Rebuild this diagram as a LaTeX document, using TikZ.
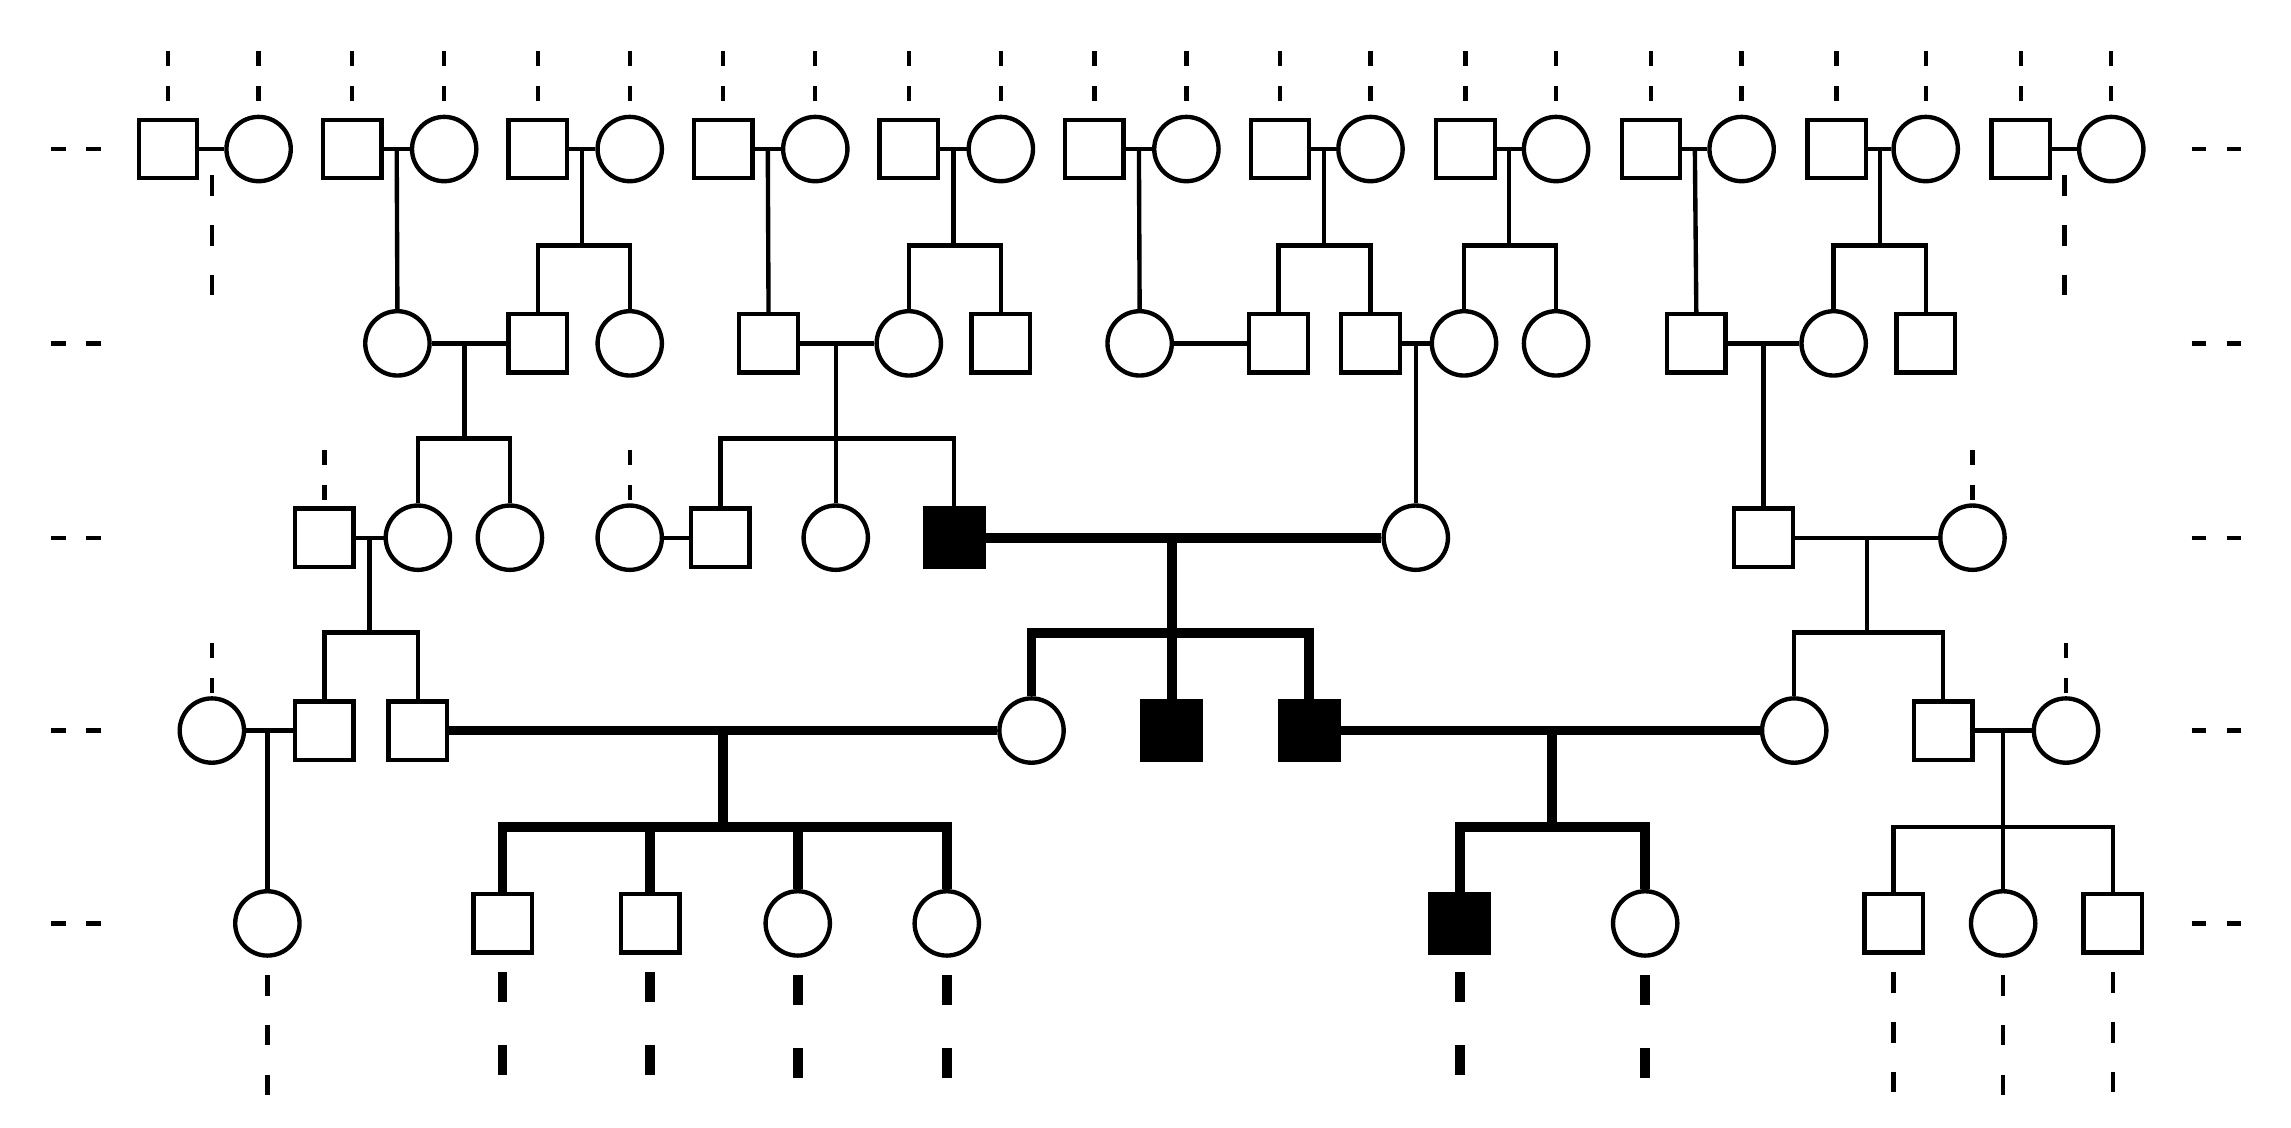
\documentclass[tikz,border=0pt]{standalone}
\usetikzlibrary{calc}
\tikzset{
  male/.style={draw,line width=0.85pt,minimum size=0.4cm,inner sep=0pt},
  female/.style={draw,circle,line width=0.85pt,minimum size=0.44cm,inner sep=0pt},
  aff/.style={fill=black},
  ln/.style={line width=0.85pt},
  bold/.style={line width=1.9pt},
  open/.style={line width=0.85pt,dash pattern=on 0.1cm off 0.14cm},
  openm/.style={line width=0.85pt,dash pattern=on 0.14cm off 0.2cm},
  openl/.style={line width=0.85pt,dash pattern=on 0.2cm off 0.3cm},
  openb/.style={line width=1.9pt,dash pattern=on 0.2cm off 0.3cm}
}
\begin{document}
\begin{tikzpicture}[x=0.01cm,y=-0.01cm]
  \useasboundingbox (0,0) rectangle (1568,772);
  % rows at 102, 235, 368, 500, 632
  \foreach \y in {102,235,368,500,632}{
    \draw[open] (35,\y) -- (72,\y);
    \draw[open] (1500,\y) -- (1537,\y);
  }
  % founders
  \foreach \i/\a/\b in {1/115/177,2/241/304,3/368/431,4/495/558,5/622/685,6/749/812,
                        7/876/938,8/1003/1065,9/1130/1192,10/1257/1318,11/1383/1445}{
    \node[male] (m\i) at (\a,102) {};
    \node[female] (f\i) at (\b,102) {};
    \draw[ln] (m\i.east) -- (f\i.west);
    \coordinate (c\i) at ($(m\i.east)!0.5!(f\i.west)$);
    \draw[open] (\a,35) -- (m\i.north);
    \draw[open] (\b,35) -- (f\i.north);
  }
  \draw[openm] (c1) ++(0,18) -- ++(0,82);
  \draw[openm] (c11) ++(0,18) -- ++(0,82);

  % second row
  \node[female] (a1) at (272,235) {};
  \node[male] (a2) at (368,235) {};
  \node[female] (a3) at (431,235) {};
  \node[male] (a4) at (526,235) {};
  \node[female] (a5) at (622,235) {};
  \node[male] (a6) at (685,235) {};
  \node[female] (a7) at (780,235) {};
  \node[male] (a8) at (875,235) {};
  \node[male] (a9) at (938,235) {};
  \node[female] (a10) at (1002,235) {};
  \node[female] (a11) at (1065,235) {};
  \node[male] (a12) at (1161,235) {};
  \node[female] (a13) at (1255,235) {};
  \node[male] (a14) at (1318,235) {};
  \draw[ln] (c2) -- (a1.north);
  \draw[ln] (c3) -- ++(0,66) -| (a2.north); \draw[ln] (c3 |- 0,168) -| (a3.north);
  \draw[ln] (c4) -- (a4.north);
  \draw[ln] (c5) -- ++(0,66) -| (a5.north); \draw[ln] (c5 |- 0,168) -| (a6.north);
  \draw[ln] (c6) -- (a7.north);
  \draw[ln] (c7) -- ++(0,66) -| (a8.north); \draw[ln] (c7 |- 0,168) -| (a9.north);
  \draw[ln] (c8) -- ++(0,66) -| (a10.north); \draw[ln] (c8 |- 0,168) -| (a11.north);
  \draw[ln] (c9) -- (a12.north);
  \draw[ln] (c10) -- ++(0,66) -| (a13.north); \draw[ln] (c10 |- 0,168) -| (a14.north);
  \draw[ln] (a1.east) -- (a2.west);
  \draw[ln] (a4.east) -- (a5.west);
  \draw[ln] (a7.east) -- (a8.west);
  \draw[ln] (a9.east) -- (a10.west);
  \draw[ln] (a12.east) -- (a13.west);

  % third row
  \node[male] (b1) at (222,368) {};
  \node[female] (b2) at (286,368) {};
  \node[female] (b3) at (349,368) {};
  \node[female] (b4) at (431,368) {};
  \node[male] (b5) at (493,368) {};
  \node[female] (b6) at (572,368) {};
  \node[male,aff] (b7) at (653,368) {};
  \node[female] (b8) at (969,368) {};
  \node[male] (b9) at (1207,368) {};
  \node[female] (b10) at (1350,368) {};
  \draw[open] (222,308) -- (b1.north);
  \draw[open] (431,308) -- (b4.north);
  \draw[open] (1350,308) -- (b10.north);
  \draw[ln] (318,235) -- (318,300) -| (b2.north); \draw[ln] (318,300) -| (b3.north);
  \draw[ln] (572,235) -- (572,300) -| (b5.north); \draw[ln] (572,300) -- (b6.north);
  \draw[ln] (572,300) -| (b7.north);
  \draw[ln] (969,235) -- (b8.north);
  \draw[ln] (1207,235) -- (b9.north);
  \draw[ln] (b1.east) -- (b2.west);
  \draw[ln] (b4.east) -- (b5.west);
  \draw[bold] (b7.east) -- (b8.west);
  \draw[ln] (b9.east) -- (b10.west);

  % fourth row
  \node[female] (d1) at (145,500) {};
  \node[male] (d2) at (222,500) {};
  \node[male] (d3) at (286,500) {};
  \node[female] (d4) at (706,500) {};
  \node[male,aff] (d5) at (802,500) {};
  \node[male,aff] (d6) at (896,500) {};
  \node[female] (d7) at (1228,500) {};
  \node[male] (d8) at (1330,500) {};
  \node[female] (d9) at (1414,500) {};
  \draw[open] (145,440) -- (d1.north);
  \draw[open] (1414,440) -- (d9.north);
  \draw[ln] (253,368) -- (253,433) -| (d2.north); \draw[ln] (253,433) -| (d3.north);
  \draw[bold] (802,368) -- (802,433) -| (d4.north); \draw[bold] (802,433) -- (d5.north);
  \draw[bold] (802,433) -| (d6.north);
  \draw[ln] (1278,368) -- (1278,433) -| (d7.north); \draw[ln] (1278,433) -| (d8.north);
  \draw[ln] (d1.east) -- (d2.west);
  \draw[bold] (d3.east) -- (d4.west);
  \draw[bold] (d6.east) -- (d7.west);
  \draw[ln] (d8.east) -- (d9.west);

  % fifth row
  \node[female] (e1) at (183,632) {};
  \node[male] (e2) at (344,632) {};
  \node[male] (e3) at (445,632) {};
  \node[female] (e4) at (546,632) {};
  \node[female] (e5) at (648,632) {};
  \node[male,aff] (e6) at (999,632) {};
  \node[female] (e7) at (1126,632) {};
  \node[male] (e8) at (1296,632) {};
  \node[female] (e9) at (1371,632) {};
  \node[male] (e10) at (1446,632) {};
  \draw[ln] (183,500) -- (e1.north);
  \draw[bold] (495,500) -- (495,566) -| (e2.north); \draw[bold] (495,566) -| (e5.north);
  \draw[bold] (e3.north) -- (e3 |- 0,566); \draw[bold] (e4.north) -- (e4 |- 0,566);
  \draw[bold] (1062,500) -- (1062,566) -| (e6.north); \draw[bold] (1062,566) -| (e7.north);
  \draw[ln] (1371,500) -- (1371,566) -| (e8.north); \draw[ln] (1371,566) -| (e10.north);
  \draw[ln] (1371,566) -- (e9.north);
  \foreach \n in {e2,e3,e4,e5,e6,e7}
    \draw[openb] (\n.south) ++(0,12) -- ++(0,80);
  \foreach \n in {e1,e8,e9,e10}
    \draw[openm] (\n.south) ++(0,12) -- ++(0,90);
\end{tikzpicture}
\end{document}
